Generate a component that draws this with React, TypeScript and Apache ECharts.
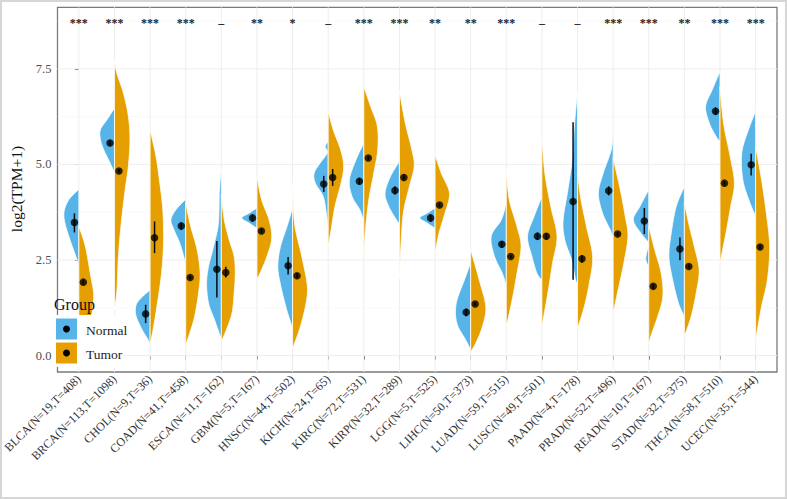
import React, { useEffect, useRef } from "react";
import * as echarts from "echarts";

const tickLabels = [
  "BLCA(N=19,T=408)", "BRCA(N=113,T=1098)", "CHOL(N=9,T=36)", "COAD(N=41,T=458)",
  "ESCA(N=11,T=162)", "GBM(N=5,T=167)", "HNSC(N=44,T=502)", "KICH(N=24,T=65)",
  "KIRC(N=72,T=531)", "KIRP(N=32,T=289)", "LGG(N=5,T=525)", "LIHC(N=50,T=373)",
  "LUAD(N=59,T=515)", "LUSC(N=49,T=501)", "PAAD(N=4,T=178)", "PRAD(N=52,T=496)",
  "READ(N=10,T=167)", "STAD(N=32,T=375)", "THCA(N=58,T=510)", "UCEC(N=35,T=544)",
];

const sigLabels = [
  "***", "***", "***", "***", "–", "**", "*", "–", "***", "***",
  "**", "**", "***", "–", "–", "***", "***", "**", "***", "***",
];

const yTicks = [0, 2.5, 5, 7.5];
const yMinor = [1.25, 3.75, 6.25, 8.75];

const normalMean = [3.48, 5.56, 1.09, 3.39, 2.26, 3.6, 2.35, 4.49, 4.56, 4.32, 3.6, 1.13, 2.91, 3.12, 4.03, 4.31, 3.52, 2.79, 6.39, 4.99];
const normalLo = [3.22, 5.49, 0.85, 3.29, 1.52, 3.5, 2.12, 4.28, 4.47, 4.21, 3.5, 1.03, 2.82, 3.02, 1.98, 4.19, 3.18, 2.49, 6.29, 4.71];
const normalHi = [3.72, 5.63, 1.33, 3.49, 3.0, 3.7, 2.58, 4.7, 4.65, 4.43, 3.7, 1.23, 3.0, 3.22, 6.1, 4.43, 3.86, 3.09, 6.49, 5.28];

const tumorMean = [1.92, 4.83, 3.08, 2.04, 2.17, 3.26, 2.09, 4.66, 5.17, 4.66, 3.94, 1.35, 2.59, 3.12, 2.53, 3.18, 1.81, 2.33, 4.51, 2.84];
const tumorLo = [1.86, 4.78, 2.68, 1.99, 2.04, 3.2, 2.03, 4.44, 5.12, 4.58, 3.89, 1.3, 2.55, 3.04, 2.43, 3.13, 1.74, 2.28, 4.46, 2.79];
const tumorHi = [1.98, 4.88, 3.51, 2.09, 2.32, 3.32, 2.15, 4.88, 5.22, 4.74, 3.99, 1.4, 2.63, 3.2, 2.63, 3.23, 1.88, 2.38, 4.56, 2.89];

// density profiles: [log2(TPM+1), half width (fraction of a category band)]
const normalViolin: [number, number][][] = [
  [[2.35, 0], [2.59, 0.083], [3.03, 0.25], [3.46, 0.39], [3.77, 0.415], [4.08, 0.28], [4.35, 0]],
  [[4.77, 0], [4.9, 0.055], [5.12, 0.166], [5.38, 0.3], [5.65, 0.395], [5.91, 0.395], [6.17, 0.21], [6.47, 0]],
  [[0.28, 0], [0.41, 0.055], [0.67, 0.22], [1.02, 0.39], [1.28, 0.405], [1.46, 0.3], [1.72, 0]],
  [[2.37, 0], [2.59, 0.055], [2.94, 0.166], [3.29, 0.33], [3.55, 0.415], [3.81, 0.28], [4.09, 0]],
  [[0.45, 0], [0.58, 0.055], [0.93, 0.19], [1.37, 0.36], [1.89, 0.415], [2.33, 0.36], [2.85, 0.22], [3.46, 0.083], [4.34, 0.055], [4.86, 0]],
  [[3.33, 0], [3.46, 0.21], [3.6, 0.425], [3.73, 0.21], [3.86, 0]],
  [[0.71, 0], [1.2, 0.166], [1.81, 0.33], [2.33, 0.415], [2.85, 0.34], [3.38, 0.155], [3.86, 0]],
  [[3.33, 0], [3.73, 0.055], [4.16, 0.14], [4.51, 0.36], [4.77, 0.395], [5.03, 0.23], [5.3, 0.028], [5.47, 0.083], [5.6, 0]],
  [[3.51, 0], [3.81, 0.11], [4.16, 0.33], [4.6, 0.405], [5.12, 0.22], [5.56, 0]],
  [[3.46, 0], [3.55, 0.083], [3.9, 0.3], [4.25, 0.405], [4.69, 0.25], [5.08, 0]],
  [[3.33, 0], [3.46, 0.21], [3.6, 0.425], [3.73, 0.21], [3.86, 0]],
  [[0.15, 0], [0.41, 0.14], [0.85, 0.39], [1.37, 0.405], [1.98, 0.175], [2.42, 0]],
  [[1.81, 0], [2.15, 0.11], [2.59, 0.33], [3.12, 0.425], [3.55, 0.14], [3.99, 0]],
  [[1.98, 0], [2.15, 0.14], [2.59, 0.28], [3.12, 0.405], [3.64, 0.22], [4.16, 0]],
  [[1.89, 0], [1.98, 0.055], [2.5, 0.166], [3.03, 0.36], [3.55, 0.405], [4.34, 0.27], [5.21, 0.14], [6.08, 0.083], [6.91, 0]],
  [[3.07, 0], [3.29, 0.083], [3.73, 0.3], [4.25, 0.415], [4.77, 0.28], [5.38, 0.055], [5.91, 0]],
  [[2.33, 0], [2.5, 0.083], [2.68, 0.06], [2.94, 0.01], [3.2, 0.22], [3.55, 0.435], [3.9, 0.25], [4.34, 0]],
  [[1.02, 0], [1.37, 0.166], [1.98, 0.33], [2.59, 0.435], [3.2, 0.37], [3.9, 0.23], [4.42, 0]],
  [[5.6, 0], [5.73, 0.11], [6.08, 0.3], [6.52, 0.405], [6.95, 0.22], [7.43, 0]],
  [[3.64, 0], [4.07, 0.19], [4.6, 0.36], [5.3, 0.39], [5.91, 0.2], [6.39, 0]],
];

const tumorViolin: [number, number][][] = [
  [[0.6, 0], [1.02, 0.33], [1.28, 0.39], [1.63, 0.415], [2.15, 0.32], [2.85, 0.185], [3.38, 0]],
  [[1.2, 0], [1.72, 0.07], [2.59, 0.11], [3.46, 0.19], [4.34, 0.3], [4.95, 0.39], [5.65, 0.435], [6.26, 0.39], [6.87, 0.25], [7.39, 0.065], [7.74, 0]],
  [[0.28, 0], [0.67, 0.083], [1.28, 0.19], [1.98, 0.3], [2.59, 0.36], [3.2, 0.38], [3.9, 0.35], [4.6, 0.26], [5.21, 0.166], [5.91, 0]],
  [[0.28, 0], [0.58, 0.11], [1.02, 0.25], [1.63, 0.36], [2.15, 0.405], [2.77, 0.32], [3.38, 0.14], [3.99, 0]],
  [[0.37, 0], [0.67, 0.14], [1.11, 0.3], [1.63, 0.36], [2.15, 0.39], [2.59, 0.36], [3.03, 0.22], [3.55, 0.083], [4.21, 0]],
  [[2.0, 0], [2.15, 0.083], [2.59, 0.28], [3.07, 0.415], [3.55, 0.34], [4.08, 0.13], [4.69, 0]],
  [[0.19, 0], [0.67, 0.19], [1.28, 0.36], [1.81, 0.415], [2.59, 0.26], [3.46, 0.055], [4.51, 0]],
  [[2.85, 0], [3.29, 0.083], [3.9, 0.19], [4.51, 0.36], [4.95, 0.435], [5.38, 0.35], [5.91, 0.14], [6.39, 0]],
  [[2.68, 0], [3.38, 0.055], [4.07, 0.14], [4.77, 0.28], [5.38, 0.39], [6.0, 0.38], [6.52, 0.19], [7.04, 0]],
  [[2.02, 0], [2.85, 0.04], [3.73, 0.11], [4.42, 0.28], [4.95, 0.415], [5.38, 0.35], [6.08, 0.166], [6.91, 0]],
  [[2.68, 0], [3.2, 0.11], [3.73, 0.28], [4.25, 0.405], [4.77, 0.175], [5.25, 0]],
  [[0.1, 0], [0.32, 0.14], [0.76, 0.33], [1.28, 0.425], [1.98, 0.24], [2.77, 0]],
  [[0.76, 0], [1.46, 0.166], [2.15, 0.3], [2.85, 0.415], [3.38, 0.3], [4.08, 0.083], [4.86, 0]],
  [[0.76, 0], [1.63, 0.166], [2.42, 0.3], [3.12, 0.425], [3.9, 0.25], [4.77, 0.083], [5.73, 0]],
  [[0.71, 0], [1.28, 0.19], [1.89, 0.33], [2.59, 0.425], [3.38, 0.25], [4.16, 0.083], [4.82, 0]],
  [[1.11, 0], [1.72, 0.14], [2.42, 0.3], [3.12, 0.415], [3.64, 0.34], [4.34, 0.2], [5.17, 0]],
  [[0.32, 0], [0.58, 0.083], [1.02, 0.25], [1.54, 0.395], [2.15, 0.35], [2.77, 0.166], [3.38, 0]],
  [[0.5, 0], [1.02, 0.19], [1.63, 0.33], [2.24, 0.415], [2.85, 0.28], [3.38, 0.14], [3.99, 0]],
  [[2.42, 0], [3.2, 0.166], [3.9, 0.3], [4.51, 0.405], [5.21, 0.285], [6.08, 0.1], [7.04, 0]],
  [[0.41, 0], [1.28, 0.166], [1.98, 0.33], [2.85, 0.395], [3.73, 0.3], [4.6, 0.166], [5.47, 0]],
];

const NORMAL_COLOR = "#56B4E9";
const TUMOR_COLOR = "#E69F00";
const DODGE = 0.125;
const SIG_Y = 8.7;
const X_MIN = -0.6;
const X_MAX = 19.6;
const Y_MIN = -0.43;
const Y_MAX = 9.11;
const FONT = "'Liberation Serif', 'Times New Roman', serif";

function smoothProfile(pts: [number, number][], steps = 8): [number, number][] {
  const out: [number, number][] = [];
  const n = pts.length;
  for (let k = 0; k < n - 1; k++) {
    const p0 = pts[Math.max(k - 1, 0)];
    const p1 = pts[k];
    const p2 = pts[k + 1];
    const p3 = pts[Math.min(k + 2, n - 1)];
    for (let s = 0; s < steps; s++) {
      const t = s / steps;
      const t2 = t * t;
      const t3 = t2 * t;
      const f = (a: number, b: number, c: number, d: number) =>
        0.5 * (2 * b + (-a + c) * t + (2 * a - 5 * b + 4 * c - d) * t2 + (-a + 3 * b - 3 * c + d) * t3);
      out.push([f(p0[0], p1[0], p2[0], p3[0]), Math.max(0, f(p0[1], p1[1], p2[1], p3[1]))]);
    }
  }
  out.push(pts[n - 1]);
  return out;
}

const idx = tickLabels.map((_, i) => i);

function violinSeries(name: string, profiles: [number, number][][], side: number, color: string) {
  return {
    name,
    type: "custom",
    z: 3,
    data: idx.map((i) => [i]),
    renderItem: (_params: any, api: any) => {
      const i = api.value(0);
      const prof = smoothProfile(profiles[i]);
      const points = prof.map(([v, w]) => api.coord([i + side * w, v]));
      return {
        type: "polygon",
        shape: { points },
        style: { fill: color, stroke: "#ffffff", lineWidth: 0.8 },
      };
    },
  };
}

function errorSeries(name: string, lo: number[], hi: number[], side: number) {
  return {
    name,
    type: "custom",
    z: 5,
    data: idx.map((i) => [i, lo[i], hi[i]]),
    renderItem: (_params: any, api: any) => {
      const x = api.value(0) + side * DODGE;
      const a = api.coord([x, api.value(1)]);
      const b = api.coord([x, api.value(2)]);
      return {
        type: "line",
        shape: { x1: a[0], y1: a[1], x2: b[0], y2: b[1] },
        style: { stroke: "#0a0a14", lineWidth: 1.5 },
      };
    },
  };
}

export default function App() {
  const ref = useRef<HTMLDivElement>(null);
  useEffect(() => {
    if (!ref.current) return;
    const chart = echarts.init(ref.current, null, { renderer: "svg" });
    const option: any = {
      animation: false,
      backgroundColor: "#ffffff",
      grid: {
        left: 47,
        right: 10,
        top: 7.3,
        bottom: 127,
        show: true,
        borderColor: "#7a7a7a",
        borderWidth: 1.3,
        backgroundColor: "transparent",
      },
      xAxis: {
        type: "value",
        min: X_MIN,
        max: X_MAX,
        axisLine: { show: false },
        splitLine: { show: false },
        axisTick: { show: true, customValues: idx, length: 4, lineStyle: { color: "#555", width: 1 } },
        axisLabel: {
          customValues: idx,
          formatter: (v: number) => tickLabels[Math.round(v)] ?? "",
          rotate: 45,
          margin: 5,
          fontSize: 12,
          fontFamily: FONT,
          color: "#333333",
        },
      },
      yAxis: {
        type: "value",
        min: Y_MIN,
        max: Y_MAX,
        axisLine: { show: false },
        splitLine: { show: false },
        axisTick: { show: true, customValues: yTicks, length: 4, lineStyle: { color: "#555", width: 1 } },
        axisLabel: {
          customValues: yTicks,
          formatter: (v: number) => v.toFixed(1),
          margin: 6,
          fontSize: 12.5,
          fontFamily: FONT,
          color: "#4d4d4d",
        },
      },
      graphic: [
        {
          type: "text",
          x: 16,
          y: 189,
          rotation: Math.PI / 2,
          z: 50,
          style: {
            text: "log2(TPM+1)",
            fontSize: 15.5,
            fontFamily: FONT,
            fill: "#111",
            align: "center",
            verticalAlign: "middle",
          },
        },
        { type: "rect", z: 100, shape: { x: 52, y: 315, width: 72, height: 52 }, style: { fill: "#ffffff" } },
        {
          type: "text",
          z: 101,
          x: 54,
          y: 304,
          style: { text: "Group", fontSize: 16, fontFamily: FONT, fill: "#111", verticalAlign: "middle" },
        },
        { type: "rect", z: 101, shape: { x: 56, y: 318.5, width: 21, height: 21 }, style: { fill: NORMAL_COLOR } },
        { type: "rect", z: 101, shape: { x: 56, y: 342.5, width: 21, height: 21 }, style: { fill: TUMOR_COLOR } },
        { type: "circle", z: 102, shape: { cx: 66.5, cy: 329, r: 3.5 }, style: { fill: "#000" } },
        { type: "circle", z: 102, shape: { cx: 66.5, cy: 353, r: 3.5 }, style: { fill: "#000" } },
        {
          type: "text",
          z: 101,
          x: 86,
          y: 330,
          style: { text: "Normal", fontSize: 13.5, fontFamily: FONT, fill: "#222", verticalAlign: "middle" },
        },
        {
          type: "text",
          z: 101,
          x: 86,
          y: 354,
          style: { text: "Tumor", fontSize: 13.5, fontFamily: FONT, fill: "#222", verticalAlign: "middle" },
        },
      ],
      series: [
        {
          name: "grid",
          type: "custom",
          z: 1,
          silent: true,
          data: [[0]],
          renderItem: (_params: any, api: any) => {
            const children: any[] = [];
            yMinor.forEach((v) => {
              const a = api.coord([X_MIN, v]);
              const b = api.coord([X_MAX, v]);
              children.push({ type: "line", shape: { x1: a[0], y1: a[1], x2: b[0], y2: b[1] }, style: { stroke: "#f6f6f6", lineWidth: 0.6 } });
            });
            yTicks.forEach((v) => {
              const a = api.coord([X_MIN, v]);
              const b = api.coord([X_MAX, v]);
              children.push({ type: "line", shape: { x1: a[0], y1: a[1], x2: b[0], y2: b[1] }, style: { stroke: "#eeeeee", lineWidth: 1 } });
            });
            idx.forEach((i) => {
              const a = api.coord([i, Y_MIN]);
              const b = api.coord([i, Y_MAX]);
              children.push({ type: "line", shape: { x1: a[0], y1: a[1], x2: b[0], y2: b[1] }, style: { stroke: "#eeeeee", lineWidth: 1 } });
            });
            return { type: "group", children };
          },
        },
        violinSeries("Normal", normalViolin, -1, NORMAL_COLOR),
        violinSeries("Tumor", tumorViolin, 1, TUMOR_COLOR),
        errorSeries("NormalErr", normalLo, normalHi, -1),
        errorSeries("TumorErr", tumorLo, tumorHi, 1),
        {
          name: "NormalMean",
          type: "scatter",
          z: 6,
          symbol: "circle",
          symbolSize: 7.5,
          itemStyle: { color: "#000" },
          data: normalMean.map((m, i) => [i - DODGE, m]),
        },
        {
          name: "TumorMean",
          type: "scatter",
          z: 6,
          symbol: "circle",
          symbolSize: 7.5,
          itemStyle: { color: "#000" },
          data: tumorMean.map((m, i) => [i + DODGE, m]),
        },
        {
          name: "sig",
          type: "custom",
          z: 7,
          data: idx.map((i) => [i, SIG_Y]),
          renderItem: (params: any, api: any) => {
            const p = api.coord([api.value(0), api.value(1)]);
            return {
              type: "text",
              x: p[0],
              y: p[1],
              style: {
                text: sigLabels[params.dataIndex],
                fontSize: 12,
                fontWeight: "bold",
                fontFamily: FONT,
                fill: "#222",
                align: "center",
                verticalAlign: "middle",
              },
            };
          },
        },
      ],
    };
    chart.setOption(option);
    return () => chart.dispose();
  }, []);

  return (
    <div style={{ position: "fixed", left: 0, top: 0, width: 787, height: 499, background: "#fff" }}>
      <div ref={ref} style={{ width: 787, height: 499 }} />
      <div
        style={{
          position: "absolute",
          left: 0,
          top: 0,
          width: 787,
          height: 499,
          boxSizing: "border-box",
          border: "2px solid #d6d6d6",
          pointerEvents: "none",
        }}
      />
    </div>
  );
}
